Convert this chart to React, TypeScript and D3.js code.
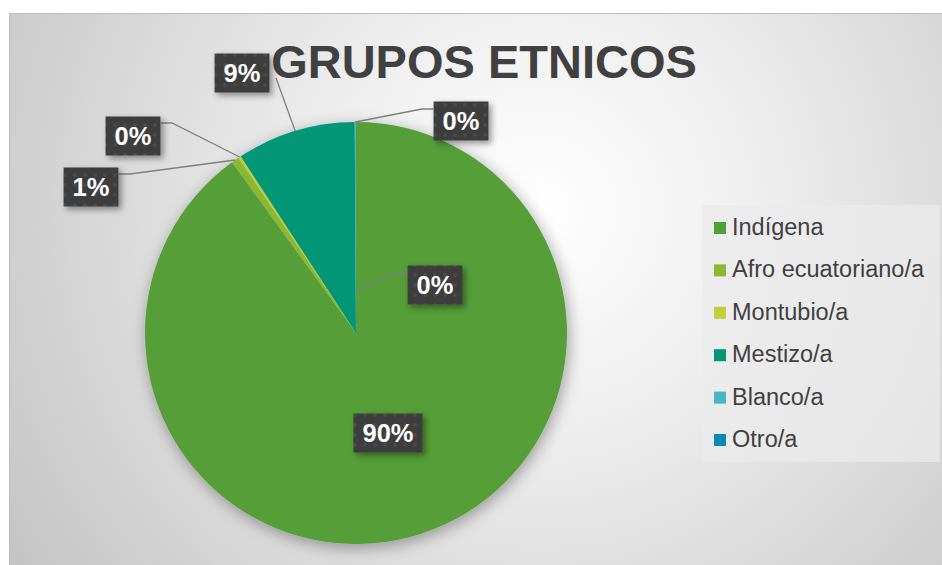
import React, { useEffect, useRef } from 'react';
import * as d3 from 'd3';

// chart data
const categories = ['Indígena', 'Afro ecuatoriano/a', 'Montubio/a', 'Mestizo/a', 'Blanco/a', 'Otro/a'];
const values = [90.0, 0.6, 0.2, 9.1, 0.1, 0.0];
const colors = ['#549E39', '#8AB833', '#C0CF3A', '#029676', '#4AB5C4', '#0989B1'];
const title = 'GRUPOS ETNICOS';

// where Excel put each data label (box centre) and the leader bend points
const labelLayout = [
  { box: [388, 433], path: null, anchorR: 0 },
  { box: [91, 187], path: [[130, 174], [119, 174]], anchorR: 1 },
  { box: [133, 136], path: [[172, 123], [161, 123]], anchorR: 1 },
  { box: [242, 73], path: [[276, 78]], anchorR: 1 },
  { box: [461, 121], path: [[422, 109], [433, 109]], anchorR: 1 },
  { box: [435, 285], path: [[395, 273], [407, 273]], anchorR: 0.2 },
];

const W = 942;
const H = 565;
const FONT = '"Liberation Sans", Arial, sans-serif';

const App = () => {
  const ref = useRef<SVGSVGElement>(null);

  useEffect(() => {
    const svg = d3.select(ref.current);
    svg.selectAll('*').remove();

    const defs = svg.append('defs');

    // background radial gradient
    const grad = defs.append('radialGradient')
      .attr('id', 'bg')
      .attr('gradientUnits', 'userSpaceOnUse')
      .attr('cx', 540).attr('cy', 210).attr('r', 640);
    grad.append('stop').attr('offset', 0).attr('stop-color', '#ffffff');
    grad.append('stop').attr('offset', 0.35).attr('stop-color', '#eeeeee');
    grad.append('stop').attr('offset', 1).attr('stop-color', '#c4c4c4');

    const pieShadow = defs.append('filter').attr('id', 'pieShadow')
      .attr('x', '-20%').attr('y', '-20%').attr('width', '140%').attr('height', '140%');
    pieShadow.append('feDropShadow')
      .attr('dx', 2).attr('dy', 4).attr('stdDeviation', 8)
      .attr('flood-color', '#000').attr('flood-opacity', 0.35);

    const boxShadow = defs.append('filter').attr('id', 'boxShadow')
      .attr('x', '-30%').attr('y', '-30%').attr('width', '160%').attr('height', '160%');
    boxShadow.append('feDropShadow')
      .attr('dx', 3).attr('dy', 3).attr('stdDeviation', 3)
      .attr('flood-color', '#000').attr('flood-opacity', 0.4);

    const dots = defs.append('pattern').attr('id', 'dots')
      .attr('patternUnits', 'userSpaceOnUse').attr('width', 10).attr('height', 10);
    dots.append('rect').attr('width', 10).attr('height', 10).attr('fill', '#3e3e3e');
    dots.append('circle').attr('cx', 5).attr('cy', 5).attr('r', 1.8).attr('fill', '#4c4c4c');

    // chart area
    svg.append('rect')
      .attr('x', 9).attr('y', 13).attr('width', W - 9).attr('height', H - 13)
      .attr('fill', 'url(#bg)');
    svg.append('path')
      .attr('d', `M9.5,${H} V13.5 H${W}`)
      .attr('fill', 'none').attr('stroke', '#bdbdbd').attr('stroke-width', 1);

    // title
    svg.append('text')
      .attr('x', 484).attr('y', 78)
      .attr('text-anchor', 'middle')
      .attr('font-family', FONT).attr('font-weight', 'bold').attr('font-size', 47)
      .attr('fill', '#404040')
      .text(title);

    // pie
    const cx = 356, cy = 333, r = 211;
    const total = d3.sum(values);
    const pie = d3.pie<number>().sort(null).value(d => d);
    const arcs = pie(values);
    const arc = d3.arc<d3.PieArcDatum<number>>().innerRadius(0).outerRadius(r);

    const g = svg.append('g').attr('transform', `translate(${cx},${cy})`);
    g.append('g').attr('filter', 'url(#pieShadow)')
      .selectAll('path')
      .data(arcs)
      .enter()
      .append('path')
        .attr('d', arc)
        .attr('fill', (d, i) => colors[i]);

    // legend
    const legend = svg.append('g');
    legend.append('rect')
      .attr('x', 702).attr('y', 205).attr('width', 238).attr('height', 257)
      .attr('fill', '#ebebeb').attr('opacity', 0.75);
    const rowY = d3.scaleLinear().domain([0, categories.length - 1]).range([235, 447]);
    categories.forEach((c, i) => {
      legend.append('rect')
        .attr('x', 714).attr('y', rowY(i) - 13).attr('width', 12).attr('height', 12)
        .attr('fill', colors[i]);
      legend.append('text')
        .attr('x', 732).attr('y', rowY(i))
        .attr('font-family', FONT).attr('font-size', 23.5)
        .attr('fill', '#404040')
        .text(c);
    });

    // data labels with leader lines
    const fmt = d3.format('.0%');
    const labels = svg.append('g');
    arcs.forEach((a, i) => {
      const lay = labelLayout[i];
      const mid = (a.startAngle + a.endAngle) / 2;
      const rr = r * lay.anchorR;
      const ax = cx + rr * Math.sin(mid);
      const ay = cy - rr * Math.cos(mid);
      if (lay.path) {
        const pts = [[ax, ay], ...lay.path];
        labels.append('path')
          .attr('d', d3.line()(pts as [number, number][]))
          .attr('fill', 'none')
          .attr('stroke', '#7f7f7f')
          .attr('stroke-width', 1.3);
      }
    });
    arcs.forEach((a, i) => {
      const lay = labelLayout[i];
      const txt = fmt(a.value / total);
      const lg = labels.append('g');
      const t = lg.append('text')
        .attr('x', lay.box[0]).attr('y', lay.box[1] + 9)
        .attr('text-anchor', 'middle')
        .attr('font-family', FONT).attr('font-weight', 'bold').attr('font-size', 25.5)
        .attr('fill', '#ffffff')
        .text(txt);
      const tw = (t.node() as SVGTextElement).getComputedTextLength();
      const bw = tw + 18;
      const bh = 39;
      lg.insert('rect', 'text')
        .attr('x', lay.box[0] - bw / 2).attr('y', lay.box[1] - bh / 2)
        .attr('width', bw).attr('height', bh)
        .attr('fill', 'url(#dots)')
        .attr('filter', 'url(#boxShadow)');
    });
  }, []);

  return (
    <div style={{ position: 'absolute', left: 0, top: 0 }}>
      <svg ref={ref} width={W} height={H} style={{ display: 'block' }} />
    </div>
  );
};

export default App;
